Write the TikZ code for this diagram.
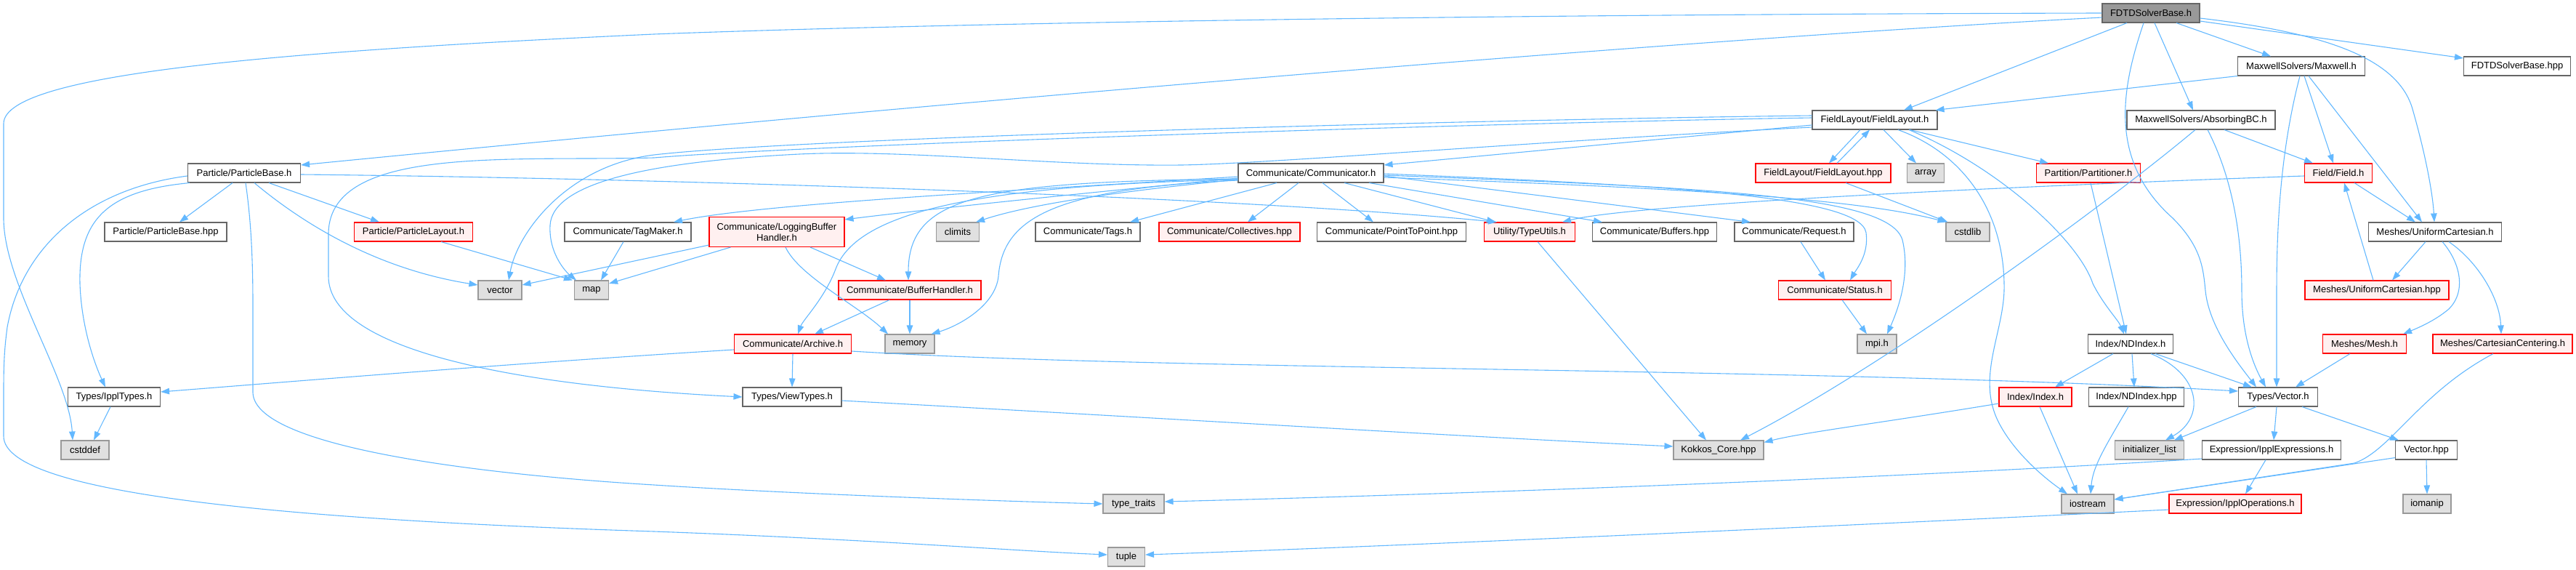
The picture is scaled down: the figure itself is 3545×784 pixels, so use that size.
\documentclass[tikz,border=0pt]{standalone}
\usepackage{fontspec}
\setmainfont{Liberation Sans}
\usetikzlibrary{arrows.meta}
\definecolor{edgec}{HTML}{63B8FF}
\definecolor{bordergray}{HTML}{666666}
\definecolor{maingray}{HTML}{999999}
\definecolor{sysfill}{HTML}{E0E0E0}
\definecolor{sysborder}{HTML}{999999}
\definecolor{redfill}{HTML}{FFF0F0}
\definecolor{redborder}{HTML}{FF0000}
\tikzset{
  nbox/.style={draw=bordergray, fill=white, line width=1.1pt, minimum height=26pt, inner sep=0pt, font=\fontsize{13}{15}\selectfont, align=center},
  mainbox/.style={nbox, fill=maingray},
  redbox/.style={nbox, draw=redborder, fill=redfill},
  sysbox/.style={nbox, draw=sysborder, fill=sysfill},
  dep/.style={draw=edgec, line width=1.1pt, -{Triangle[length=12pt,width=8.5pt]}}
}
\begin{document}
\begin{tikzpicture}[x=1pt,y=-1pt]
\useasboundingbox (0,0) rectangle (3545,784);
% nodes
\node[mainbox, minimum width=134pt] (main) at (2960,18) {FDTDSolverBase.h};
\node[nbox, minimum width=175pt] (maxwell) at (3167,91) {MaxwellSolvers/Maxwell.h};
\node[nbox, minimum width=147pt] (fhpp) at (3464,91) {FDTDSolverBase.hpp};
\node[nbox, minimum width=204pt] (absorb) at (3029,165) {MaxwellSolvers/AbsorbingBC.h};
\node[nbox, minimum width=172pt] (flayout) at (2580,165) {FieldLayout/FieldLayout.h};
\node[nbox, minimum width=155pt] (pbase) at (336,238) {Particle/ParticleBase.h};
\node[nbox, minimum width=200pt] (comm) at (1804,238) {Communicate/Communicator.h};
\node[redbox, minimum width=186pt] (flhpp) at (2509,238) {FieldLayout/FieldLayout.hpp};
\node[sysbox, minimum width=51pt] (array) at (2650,238) {array};
\node[redbox, minimum width=143pt] (part) at (2874,238) {Partition/Partitioner.h};
\node[redbox, minimum width=93pt] (field) at (3218,238) {Field/Field.h};
\node[nbox, minimum width=168pt] (pbhpp) at (228,319) {Particle/ParticleBase.hpp};
\node[redbox, minimum width=163pt] (playout) at (569,319) {Particle/ParticleLayout.h};
\node[nbox, minimum width=174pt] (tagmaker) at (864,319) {Communicate/TagMaker.h};
\node[redbox, minimum width=186pt, minimum height=41pt] (logbuf) at (1069,319) {Communicate/LoggingBuffer\\Handler.h};
\node[sysbox, minimum width=59pt] (climits) at (1318,319) {climits};
\node[nbox, minimum width=144pt] (tags) at (1497,319) {Communicate/Tags.h};
\node[redbox, minimum width=194pt] (coll) at (1692,319) {Communicate/Collectives.hpp};
\node[nbox, minimum width=205pt] (p2p) at (1915,319) {Communicate/PointToPoint.hpp};
\node[redbox, minimum width=125pt] (typeutils) at (2105,319) {Utility/TypeUtils.h};
\node[nbox, minimum width=171pt] (buffers) at (2277,319) {Communicate/Buffers.hpp};
\node[nbox, minimum width=164pt] (request) at (2469,319) {Communicate/Request.h};
\node[sysbox, minimum width=60pt] (cstdlib) at (2708,319) {cstdlib};
\node[nbox, minimum width=183pt] (ucart) at (3351,319) {Meshes/UniformCartesian.h};
\node[sysbox, minimum width=60pt] (vector) at (688,399) {vector};
\node[sysbox, minimum width=47pt] (map) at (814,399) {map};
\node[redbox, minimum width=196pt] (bufh) at (1252,399) {Communicate/BufferHandler.h};
\node[redbox, minimum width=155pt] (status) at (2525,399) {Communicate/Status.h};
\node[redbox, minimum width=198pt] (ucarthpp) at (3271,399) {Meshes/UniformCartesian.hpp};
\node[redbox, minimum width=161pt] (archive) at (1091,473) {Communicate/Archive.h};
\node[sysbox, minimum width=68pt] (memory) at (1252,473) {memory};
\node[sysbox, minimum width=54pt] (mpi) at (2583,473) {mpi.h};
\node[nbox, minimum width=117pt] (ndindex) at (2932,473) {Index/NDIndex.h};
\node[redbox, minimum width=115pt] (mesh) at (3254,473) {Meshes/Mesh.h};
\node[redbox, minimum width=192pt] (centering) at (3444,473) {Meshes/CartesianCentering.h};
\node[nbox, minimum width=127pt] (ippltypes) at (157,546) {Types/IpplTypes.h};
\node[nbox, minimum width=136pt] (viewtypes) at (1090,546) {Types/ViewTypes.h};
\node[redbox, minimum width=100pt] (index) at (2801,546) {Index/Index.h};
\node[nbox, minimum width=131pt] (ndhpp) at (2940,546) {Index/NDIndex.hpp};
\node[nbox, minimum width=109pt] (vec) at (3135,546) {Types/Vector.h};
\node[sysbox, minimum width=66pt] (cstddef) at (117,619) {cstddef};
\node[sysbox, minimum width=124pt] (kokkos) at (2365,619) {Kokkos\_Core.hpp};
\node[sysbox, minimum width=95pt] (initlist) at (2958,619) {initializer\_list};
\node[nbox, minimum width=191pt] (iexpr) at (3126,619) {Expression/IpplExpressions.h};
\node[nbox, minimum width=85pt] (vechpp) at (3339,619) {Vector.hpp};
\node[sysbox, minimum width=84pt] (typetraits) at (1560,693) {type\_traits};
\node[sysbox, minimum width=72pt] (iostream) at (2873,693) {iostream};
\node[redbox, minimum width=182pt] (iops) at (3076,693) {Expression/IpplOperations.h};
\node[sysbox, minimum width=66pt] (iomanip) at (3340,693) {iomanip};
\node[sysbox, minimum width=51pt] (tuple) at (1550,766) {tuple};
% edges from FDTDSolverBase.h
\draw[dep] (main.west) .. controls (2000,20) and (1300,32) .. (900,47) .. controls (400,70) and (5,100) .. (5,170) -- (5,300) .. controls (5,390) and (95,520) .. ([xshift=-17pt]cstddef.north);
\draw[dep] ([yshift=-6pt]main.west) .. controls (2300,55) and (1300,140) .. ([yshift=11pt]pbase.east);
\draw[dep] ([xshift=-33pt]main.south) -- ([xshift=40pt]flayout.north);
\draw[dep] ([xshift=-10pt]main.south) .. controls (2920,120) and (2900,220) .. (2990,300) .. controls (3030,340) and (3032,370) .. (3035,400) .. controls (3040,450) and (3080,500) .. ([xshift=-30pt]vec.north);
\draw[dep] ([xshift=5pt]main.south) -- ([xshift=-11pt]absorb.north);
\draw[dep] ([xshift=35pt]main.south) -- ([xshift=-42pt]maxwell.north);
\draw[dep] ([yshift=-11pt]main.east) -- ([yshift=11pt]fhpp.west);
\draw[dep] ([yshift=-7pt]main.east) .. controls (3200,45) and (3300,80) .. (3320,150) .. controls (3340,220) and (3348,270) .. ([xshift=-1pt]ucart.north);
% Maxwell.h
\draw[dep] (maxwell.south west) -- ([xshift=-3pt]flayout.north east);
\draw[dep] ([xshift=-2pt]maxwell.south) .. controls (3140,200) and (3133,300) .. (3133,400) -- ([xshift=-2pt]vec.north);
\draw[dep] ([xshift=4pt]maxwell.south) -- ([xshift=-7pt]field.north);
\draw[dep] ([xshift=10pt]maxwell.south) -- ([xshift=-18pt]ucart.north);
% AbsorbingBC.h
\draw[dep] ([xshift=-8pt]absorb.south) .. controls (2900,280) and (2600,500) .. ([xshift=30pt]kokkos.north);
\draw[dep] ([xshift=9pt]absorb.south) .. controls (3080,260) and (3085,350) .. (3085,400) .. controls (3085,460) and (3100,500) .. ([xshift=-17pt]vec.north);
\draw[dep] ([xshift=32pt]absorb.south) -- ([xshift=-35pt]field.north);
% FieldLayout.h
\draw[dep] ([yshift=-7pt]flayout.west) -- ([yshift=11pt]comm.east);
\draw[dep] ([yshift=6pt]flayout.west) .. controls (2000,165) and (1100,190) .. (900,213) .. controls (780,228) and (712,320) .. ([xshift=12pt]vector.north);
\draw[dep] ([yshift=3pt]flayout.west) .. controls (2000,170) and (1100,200) .. (900,217) .. controls (700,222) and (455,200) .. (452,320) -- (452,380) .. controls (452,480) and (700,530) .. (viewtypes.west);
\draw[dep] ([yshift=-10pt]flayout.west) .. controls (2100,195) and (1750,225) .. (1626,227) .. controls (1450,229) and (1250,205) .. (1100,212) .. controls (900,222) and (760,250) .. (757,310) .. controls (755,350) and (780,375) .. ([xshift=-21pt]map.north);
\draw[dep] ([xshift=-20pt]flayout.south) -- ([xshift=8pt]flhpp.north);
\draw[dep] ([xshift=19pt]flhpp.north) -- ([xshift=-7pt]flayout.south);
\draw[dep] ([xshift=12pt]flayout.south) -- ([xshift=-13pt]array.north);
\draw[dep] ([xshift=32pt]flayout.south) .. controls (2700,210) and (2760,290) .. (2758,400) .. controls (2756,460) and (2720,520) .. (2750,580) .. controls (2770,620) and (2810,655) .. ([xshift=-28pt]iostream.north);
\draw[dep] ([xshift=47pt]flayout.south) .. controls (2750,230) and (2860,330) .. (2880,390) .. controls (2895,420) and (2915,440) .. ([xshift=-9pt]ndindex.north);
\draw[dep] ([xshift=48pt]flayout.south) -- ([xshift=-55pt]part.north);
\draw[dep] ([xshift=31pt]flhpp.south) -- ([xshift=3pt]cstdlib.north west);
\draw[dep] ([xshift=3pt]part.south) -- ([xshift=-6pt]ndindex.north);
% Field.h and meshes
\draw[dep] ([yshift=-4pt]field.west) .. controls (2800,255) and (2250,280) .. ([xshift=45pt]typeutils.north);
\draw[dep] ([xshift=22pt]field.south) -- ([xshift=-27pt]ucart.north);
\draw[dep] ([xshift=-13pt]ucart.south) -- ([xshift=21pt]ucarthpp.north);
\draw[dep] ([xshift=10pt]ucart.south) .. controls (3385,360) and (3395,400) .. (3370,425) .. controls (3350,442) and (3325,452) .. ([xshift=-5pt]mesh.north east);
\draw[dep] ([xshift=19pt]ucart.south) .. controls (3410,360) and (3440,410) .. ([xshift=-2pt]centering.north);
\draw[dep] ([xshift=-5pt]ucarthpp.north) -- ([xshift=8pt]field.south);
\draw[dep] ([xshift=-20pt]mesh.south) -- ([xshift=24pt]vec.north);
\draw[dep] ([xshift=-13pt]centering.south) .. controls (3330,540) and (3290,620) .. (3240,637) -- ([yshift=6pt]iostream.east);
\draw[dep] ([yshift=3pt]vechpp.south west) -- ([yshift=6pt]iostream.east);
\draw[dep] (vechpp.south) -- (iomanip.north);
% Index
\draw[dep] ([xshift=-24pt]ndindex.south) -- ([xshift=27pt]index.north);
\draw[dep] ([xshift=2pt]ndindex.south) -- ([xshift=-3pt]ndhpp.north);
\draw[dep] ([xshift=28pt]ndindex.south) .. controls (3030,515) and (3035,575) .. ([xshift=22pt]initlist.north);
\draw[dep] ([xshift=34pt]ndindex.south) -- ([xshift=-36pt]vec.north);
\draw[dep] ([xshift=6pt]index.south) -- ([xshift=-14pt]iostream.north);
\draw[dep] ([yshift=-9pt]index.west) .. controls (2600,580) and (2480,595) .. ([yshift=-3pt]kokkos.north east);
\draw[dep] ([xshift=-11pt]ndhpp.south) .. controls (2900,610) and (2880,640) .. ([xshift=4pt]iostream.north);
% Vector.h
\draw[dep] ([xshift=-30pt]vec.south) -- ([xshift=34pt]initlist.north);
\draw[dep] ([xshift=-2pt]vec.south) -- ([xshift=3pt]iexpr.north);
\draw[dep] ([xshift=33pt]vec.south) -- ([xshift=-38pt]vechpp.north);
\draw[dep] ([xshift=-8pt]iexpr.south) -- ([xshift=14pt]iops.north);
\draw[dep] ([yshift=-12pt]iexpr.west) .. controls (2600,658) and (2000,680) .. ([yshift=3pt]typetraits.east);
\draw[dep] ([yshift=-8pt]iops.west) .. controls (2500,725) and (1900,752) .. ([yshift=3pt]tuple.east);
% Kokkos
\draw[dep] ([xshift=11pt]typeutils.south) -- ([xshift=-17pt]kokkos.north);
\draw[dep] ([yshift=-5pt]viewtypes.east) .. controls (1600,575) and (2000,600) .. ([yshift=5pt]kokkos.west);
% Communicator.h
\draw[dep] ([yshift=-5pt]comm.west) .. controls (1400,262) and (1050,280) .. ([xshift=63pt]tagmaker.north);
\draw[dep] ([yshift=-7pt]comm.west) .. controls (1500,265) and (1300,285) .. ([yshift=-4pt]logbuf.north east);
\draw[dep] ([yshift=-9pt]comm.west) .. controls (1550,262) and (1420,280) .. ([xshift=25pt]climits.north);
\draw[dep] ([yshift=-8pt]comm.west) .. controls (1350,250) and (1250,270) .. ([xshift=-2pt]bufh.north);
\draw[dep] ([yshift=-9pt]comm.west) .. controls (1350,255) and (1180,290) .. (1150,370) .. controls (1135,410) and (1105,440) .. ([xshift=7pt]archive.north);
\draw[dep] ([yshift=-10pt]comm.west) .. controls (1450,260) and (1380,300) .. (1374,380) .. controls (1370,420) and (1320,448) .. ([xshift=-5pt]memory.north east);
\draw[dep] ([xshift=-47pt]comm.south) -- ([xshift=58pt]tags.north);
\draw[dep] ([xshift=-17pt]comm.south) -- ([xshift=25pt]coll.north);
\draw[dep] ([xshift=16pt]comm.south) -- ([xshift=-25pt]p2p.north);
\draw[dep] ([xshift=46pt]comm.south) -- ([xshift=-47pt]typeutils.north);
\draw[dep] ([xshift=80pt]comm.south) -- ([xshift=-72pt]buffers.north);
\draw[dep] ([yshift=-4pt]comm.east) -- ([xshift=-60pt]request.north);
\draw[dep] ([yshift=-1pt]comm.east) .. controls (2300,255) and (2560,270) .. (2568,320) .. controls (2572,350) and (2555,370) .. ([xshift=21pt]status.north);
\draw[dep] ([yshift=-3pt]comm.east) .. controls (2350,258) and (2600,268) .. (2618,330) .. controls (2630,380) and (2610,430) .. ([xshift=14pt]mpi.north);
\draw[dep] ([yshift=-6pt]comm.east) .. controls (2300,258) and (2550,272) .. ([xshift=1pt]cstdlib.north west);
% LoggingBufferHandler, TagMaker, ParticleLayout
\draw[dep] ([yshift=3pt]logbuf.south west) -- ([yshift=7pt]vector.east);
\draw[dep] ([xshift=30pt]logbuf.south west) -- ([yshift=9pt]map.east);
\draw[dep] ([xshift=46pt]logbuf.south) -- ([xshift=-33pt]bufh.north);
\draw[dep] ([xshift=12pt]logbuf.south) .. controls (1100,380) and (1180,420) .. ([xshift=-30pt]memory.north);
\draw[dep] ([xshift=-6pt]tagmaker.south) -- ([xshift=13pt]map.north);
\draw[dep] ([xshift=38pt]playout.south) -- ([xshift=-2pt]map.north west);
% ParticleBase.h
\draw[dep] ([xshift=-16pt]pbase.south) -- ([xshift=19pt]pbhpp.north);
\draw[dep] ([xshift=34pt]pbase.south) -- ([xshift=-47pt]playout.north);
\draw[dep] ([xshift=14pt]pbase.south) .. controls (420,310) and (520,370) .. ([yshift=7pt]vector.west);
\draw[dep] ([xshift=2pt]pbase.south) .. controls (345,300) and (348,350) .. (348,420) -- (348,540) .. controls (350,620) and (700,655) .. (900,667) .. controls (1100,680) and (1400,690) .. (typetraits.west);
\draw[dep] ([yshift=-2pt]pbase.east) .. controls (900,245) and (1700,270) .. ([xshift=-45pt]typeutils.north);
\draw[dep] ([xshift=3pt]pbase.south west) .. controls (150,262) and (108,300) .. (110,390) .. controls (112,450) and (130,500) .. ([xshift=-12pt]ippltypes.north);
\draw[dep] ([yshift=-4pt]pbase.west) .. controls (120,260) and (30,340) .. (10,450) .. controls (6,480) and (5,500) .. (5,540) -- (5,600) .. controls (5,680) and (400,715) .. (900,731) .. controls (1200,742) and (1400,758) .. ([yshift=3pt]tuple.west);
% Archive, BufferHandler, Request, Status, IpplTypes
\draw[dep] (archive.south) -- (viewtypes.north);
\draw[dep] ([yshift=-8pt]archive.west) .. controls (700,500) and (400,525) .. ([yshift=7pt]ippltypes.east);
\draw[dep] ([yshift=-10pt]archive.east) .. controls (1600,510) and (2500,505) .. ([yshift=8pt]vec.west);
\draw[dep] ([xshift=-28pt]bufh.south) -- ([xshift=30pt]archive.north);
\draw[dep] (bufh.south) -- (memory.north);
\draw[dep] ([xshift=9pt]request.south) -- ([xshift=-13pt]status.north);
\draw[dep] ([xshift=10pt]status.south) -- ([xshift=-14pt]mpi.north);
\draw[dep] ([xshift=-5pt]ippltypes.south) -- ([xshift=12pt]cstddef.north);
\end{tikzpicture}
\end{document}
